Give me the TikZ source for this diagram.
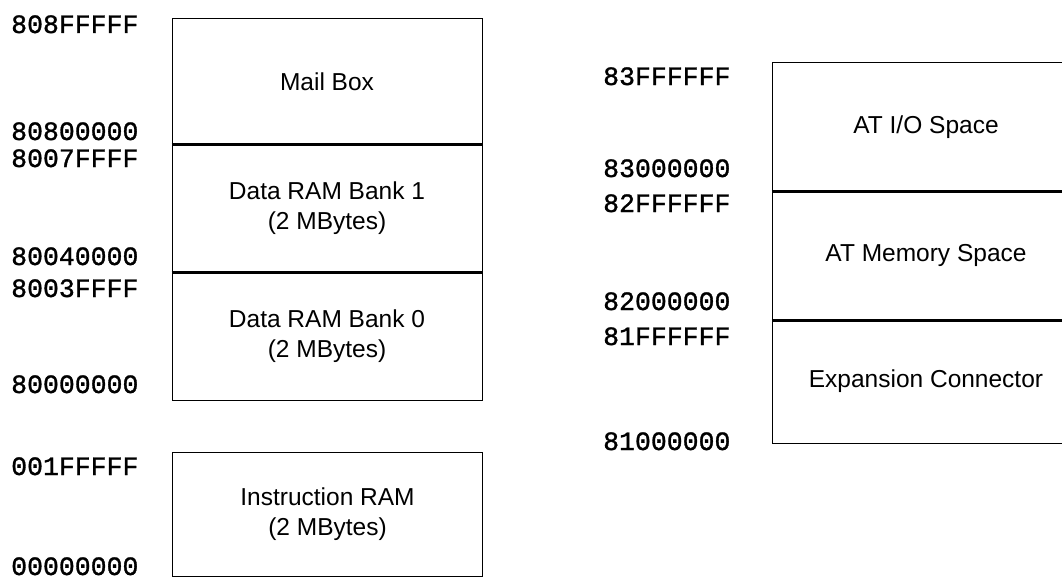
\documentclass[tikz,border=0pt]{standalone}
\usepackage{fontspec}
\setmainfont{Liberation Sans}
\newfontfamily\addrfont[FakeBold=1.2]{Liberation Mono}
\usetikzlibrary{positioning}

\begin{document}
\begin{tikzpicture}[x=1pt, y=-1pt,
        region/.style={draw=black, line width=1pt, minimum width=310pt, inner sep=0pt, align=center, font=\fontsize{24.5}{30}\selectfont},
        divider/.style={line width=2.6pt},
        addr/.style={anchor=base west, inner sep=0pt, font=\addrfont\fontsize{26.5}{30}\selectfont}
    ]
        \useasboundingbox (0,0) rectangle (1062,578);

        % left map
        \node[region, minimum height=125pt] (mail) at (327,81.5) {Mail Box};
        \node[region, minimum height=128pt] (bank1) at (327,208) {Data RAM Bank 1\\(2 MBytes)};
        \node[region, minimum height=128pt] (bank0) at (327,336) {Data RAM Bank 0\\(2 MBytes)};
        \node[region, minimum height=124pt] (iram) at (327.5,514.5) {Instruction RAM\\(2 MBytes)};
        \draw[divider] (mail.south west) -- (mail.south east);
        \draw[divider] (bank1.south west) -- (bank1.south east);

        \node[addr] (a808f) at (11,33) {808FFFFF};
        \node[addr] (a8080) at (11,140) {80800000};
        \node[addr] (a8007) at (11,167) {8007FFFF};
        \node[addr] (a8004) at (11,265) {80040000};
        \node[addr] (a8003) at (11,297) {8003FFFF};
        \node[addr] (a8000) at (11,393) {80000000};
        \node[addr] (a001f) at (11,475) {001FFFFF};
        \node[addr] (a0000) at (11,575) {00000000};

        % right map
        \node[region, minimum width=308pt, minimum height=128pt] (atio) at (926,127) {AT I/O Space};
        \node[region, minimum width=308pt, minimum height=129pt] (atmem) at (926,255.5) {AT Memory Space};
        \node[region, minimum width=308pt, minimum height=123pt] (expcon) at (926,381.5) {Expansion Connector};
        \draw[divider] (atio.south west) -- (atio.south east);
        \draw[divider] (atmem.south west) -- (atmem.south east);

        \node[addr] (a83ff) at (603,85) {83FFFFFF};
        \node[addr] (a8300) at (603,177) {83000000};
        \node[addr] (a82ff) at (603,212) {82FFFFFF};
        \node[addr] (a8200) at (603,310) {82000000};
        \node[addr] (a81ff) at (603,345) {81FFFFFF};
        \node[addr] (a8100) at (603,450) {81000000};
    \end{tikzpicture}
\end{document}
